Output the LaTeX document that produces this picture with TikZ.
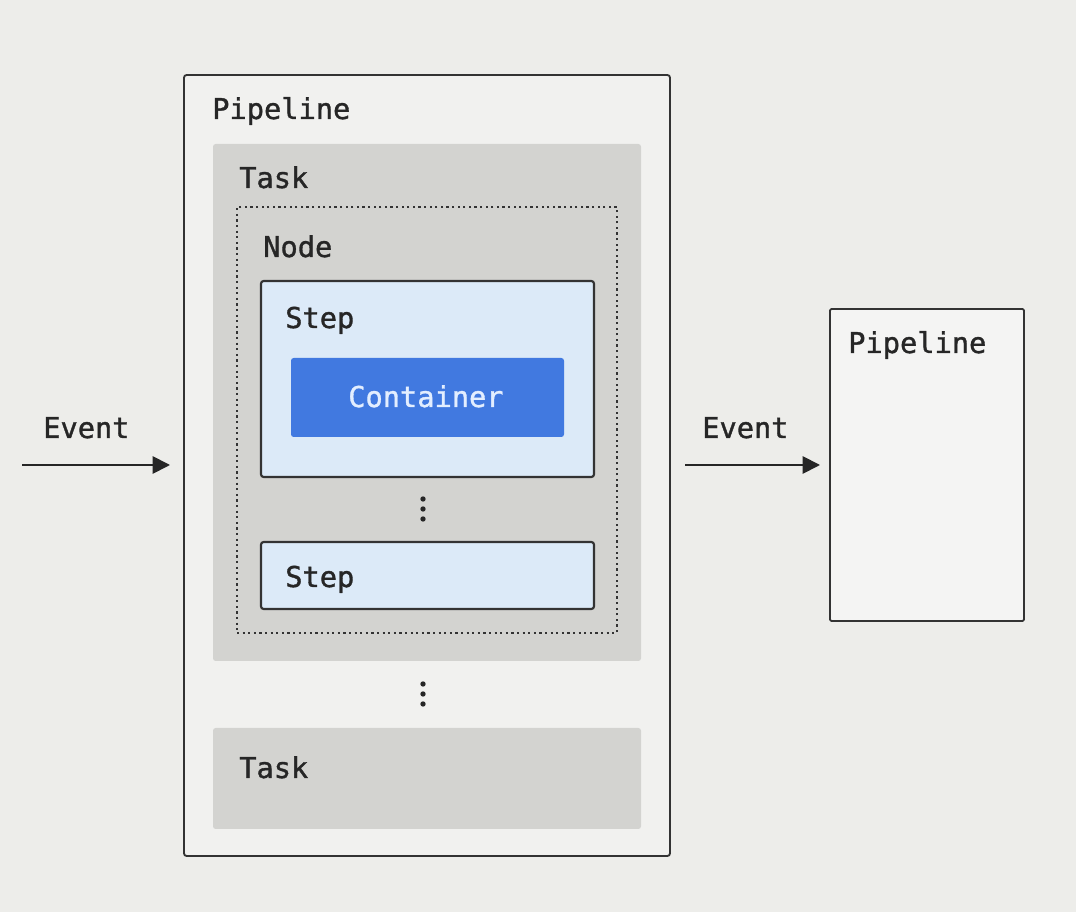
\documentclass[tikz,border=0pt]{standalone}
\usepackage{fontspec}
\setmonofont[FakeBold=1.2]{DejaVu Sans Mono}
\usetikzlibrary{arrows.meta,fit}
\definecolor{bg}{HTML}{EDEDEA}
\definecolor{pipefill}{HTML}{F1F1EF}
\definecolor{taskfill}{HTML}{D3D3D0}
\definecolor{stepfill}{HTML}{DCEAF8}
\definecolor{contfill}{HTML}{4179E0}
\definecolor{conttext}{HTML}{E3EEFF}
\definecolor{edge}{HTML}{333333}
\tikzset{
  lbl/.style={anchor=base west, inner sep=0pt, font=\ttfamily\fontsize{21.5}{24}\selectfont, text=black!85},
  pipebox/.style={draw=edge, line width=1.4pt, fill=pipefill, rounded corners=2pt, inner sep=0pt},
  taskbox/.style={fill=taskfill, rounded corners=2pt, inner sep=0pt},
  nodebox/.style={draw=black!80, line width=1.7pt, dash pattern=on 1.6pt off 2.6pt, inner sep=0pt},
  stepbox/.style={draw=edge, line width=1.6pt, fill=stepfill, rounded corners=2pt, inner sep=0pt},
  contbox/.style={fill=contfill, rounded corners=2pt, inner sep=0pt},
  dotmark/.style={circle, fill=black!85, inner sep=0pt, minimum size=4pt},
  flow/.style={draw=black!85, line width=1.4pt, -{Triangle[length=13pt, width=13pt]}},
}
\begin{document}
\begin{tikzpicture}[x=0.75pt, y=-0.75pt]
\fill[bg] (0,0) rectangle (1076,912);
\useasboundingbox (0,0) rectangle (1076,912);

% outer pipeline
\coordinate (p1a) at (184,75); \coordinate (p1b) at (670,856);
\node[pipebox, fit=(p1a)(p1b)] (pipe1) {};
\node[lbl] (pipe1lbl) at (212,119) {Pipeline};

% task 1
\coordinate (t1a) at (213,144); \coordinate (t1b) at (641,661);
\node[taskbox, fit=(t1a)(t1b)] (task1) {};
\node[lbl] (task1lbl) at (239,188) {Task};

% node dotted
\coordinate (n1a) at (237,207); \coordinate (n1b) at (617,633);
\node[nodebox, fit=(n1a)(n1b)] (node1) {};
\node[lbl] (node1lbl) at (263,257) {Node};

% step 1
\coordinate (s1a) at (261,281); \coordinate (s1b) at (594,477);
\node[stepbox, fit=(s1a)(s1b)] (step1) {};
\node[lbl] (step1lbl) at (285,328) {Step};

% container
\coordinate (c1a) at (291,358); \coordinate (c1b) at (564,437);
\node[contbox, fit=(c1a)(c1b)] (cont) {};
\node[lbl, text=conttext] (contlbl) at (348,407) {Container};

% dots between steps
\node[dotmark] (d1) at (423,499) {};
\node[dotmark] (d2) at (423,509) {};
\node[dotmark] (d3) at (423,519) {};

% step 2
\coordinate (s2a) at (261,542); \coordinate (s2b) at (594,609);
\node[stepbox, fit=(s2a)(s2b)] (step2) {};
\node[lbl] (step2lbl) at (285,587) {Step};

% dots between tasks
\node[dotmark] (e1) at (423,684) {};
\node[dotmark] (e2) at (423,694) {};
\node[dotmark] (e3) at (423,704) {};

% task 2
\coordinate (t2a) at (213,728); \coordinate (t2b) at (641,829);
\node[taskbox, fit=(t2a)(t2b)] (task2) {};
\node[lbl] (task2lbl) at (239,778) {Task};

% right pipeline
\coordinate (p2a) at (830,309); \coordinate (p2b) at (1024,621);
\node[pipebox, fill=white!25!pipefill, rounded corners=1pt, fit=(p2a)(p2b)] (pipe2) {};
\node[lbl] (pipe2lbl) at (848,353) {Pipeline};

% arrows
\coordinate (in) at (22,465);
\coordinate (inend) at (170,465);
\draw[flow] (in) -- (inend);
\node[lbl] (ev1) at (43,438) {Event};

\coordinate (outstart) at (685,465);
\coordinate (outend) at (820,465);
\draw[flow] (outstart) -- (outend);
\node[lbl] (ev2) at (702,438) {Event};
\end{tikzpicture}
\end{document}
